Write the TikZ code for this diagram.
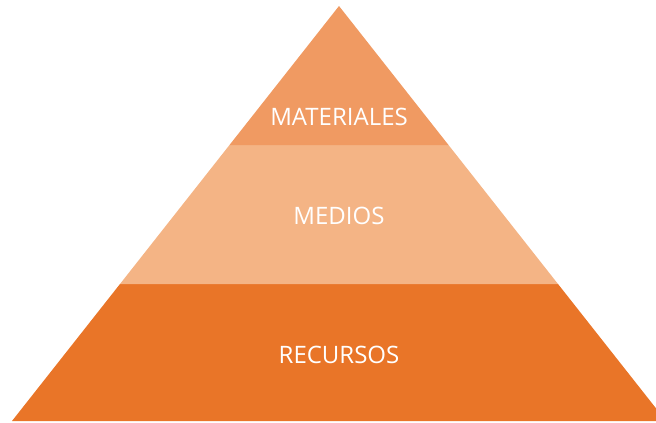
\documentclass[tikz,border=0pt]{standalone}
\usepackage{fontspec}
\setmainfont{Open Sans}
\usepackage{tikz}
\definecolor{topOrange}{HTML}{F09A62}
\definecolor{midOrange}{HTML}{F4B485}
\definecolor{baseOrange}{HTML}{E97528}

\begin{document}
\begin{tikzpicture}[x=1pt, y=-1pt, every node/.style={text=white, font=\fontsize{24}{28}\selectfont}]
    \useasboundingbox (0, 0) rectangle (656, 423);
    \clip (0, 0) rectangle (656, 423);
    \fill[fill=baseOrange] (120, 284) -- (558, 284) -- (666, 421) -- (12, 421) -- cycle;
    \fill[fill=midOrange] (229.5, 145) -- (448.5, 145) -- (558, 284) -- (120, 284) -- cycle;
    \fill[fill=topOrange] (339, 6) -- (448.5, 145) -- (229.5, 145) -- cycle;
    \node (M) at (339, 117) {MATERIALES};
    \node (D) at (339, 216) {MEDIOS};
    \node (R) at (339, 355) {RECURSOS};
  \end{tikzpicture}
\end{document}
